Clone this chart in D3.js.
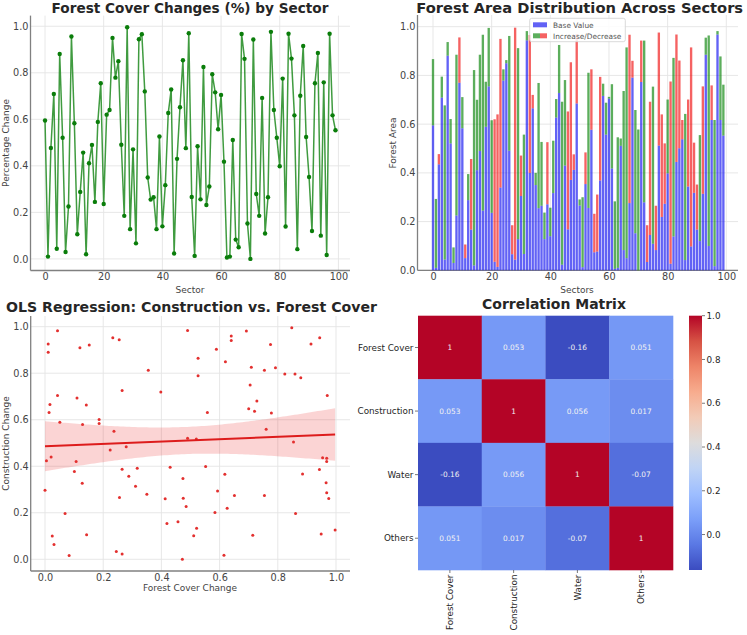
<!DOCTYPE html>
<html><head><meta charset="utf-8">
<script src="https://cdn.jsdelivr.net/npm/d3@7"></script>
<style>body{margin:0;background:#fff;} text{font-family:"DejaVu Sans",sans-serif;}</style>
</head><body><svg id="c" width="747" height="635"></svg>
<script>
// ---------------- DATA ----------------
const sectors = d3.range(100);
const forestCover = [0.595,0.01,0.477,0.709,0.044,0.881,0.521,0.03,0.225,0.956,
0.583,0.106,0.288,0.457,0.02,0.411,0.49,0.245,0.589,0.755,
0.236,0.62,0.64,0.95,0.779,0.85,0.491,0.185,0.996,0.128,
0.471,0.067,0.944,0.966,0.72,0.35,0.255,0.265,0.128,0.526,
0.14,0.317,0.627,0.728,0.023,0.43,0.652,0.854,0.476,0.97,
0.266,0.013,0.484,0.256,0.825,0.232,0.311,0.794,0.716,0.557,
0.705,0.418,0.006,0.01,0.511,0.083,0.05,0.967,0.86,0.152,
0.0,0.943,0.279,0.185,0.692,0.109,0.265,0.976,0.64,0.521,
0.398,0.775,0.139,0.968,0.861,0.617,0.042,0.701,0.915,0.524,
0.352,0.12,0.755,0.885,0.1,0.759,0.017,0.968,0.617,0.553];
const areaChange = [0.272,0.283,-0.042,0.086,0.633,0.056,0.100,0.064,0.660,-0.186,
0.128,-0.056,0.107,-0.290,0.802,0.289,0.395,0.722,0.185,0.240,
0.380,-0.585,-0.626,-0.610,0.046,0.013,0.471,-0.119,-0.952,0.784,
-0.166,0.490,0.038,-0.566,-0.055,0.050,0.514,0.262,0.109,-0.255,
0.117,0.215,0.076,0.197,0.669,0.351,-0.484,-0.483,-0.064,-0.285,
0.025,0.287,-0.130,0.555,-0.248,-0.158,-0.234,-0.425,0.050,0.131,
0.007,0.346,0.277,0.536,0.030,0.653,0.865,-0.691,-0.069,0.506,
0.578,-0.170,0.664,-0.151,-0.547,0.645,-0.182,-0.464,-0.421,-0.248,
0.303,-0.748,0.733,-0.523,-0.360,-0.079,0.600,-0.357,-0.817,-0.206,
-0.185,0.435,-0.441,0.070,0.864,-0.142,0.600,0.014,0.261,0.209];
const olsForest = [0.043,0.011,0.011,0.12,0.152,0.233,0.255,0.355,0.49,0.265,0.398,0.043,0.11,0.142,0.017,0.014,0.051,0.186,0.186,0.129,0.237,0.005,0.021,0.107,0.101,0.128,0.0,0.069,0.025,0.031,0.083,0.143,0.224,0.279,0.265,0.288,0.317,0.311,0.35,0.256,0.245,0.265,0.43,0.413,0.419,0.457,0.474,0.475,0.485,0.472,0.49,
0.64,0.64,0.692,0.589,0.526,0.526,0.62,0.775,0.848,0.914,0.944,0.709,0.754,0.792,0.824,0.859,0.879,0.705,0.558,0.728,0.7,0.72,0.778,0.97,0.76,0.52,0.854,0.954,0.968,0.968,0.552,0.618,0.885,0.943,0.593,0.651,0.754,0.966,0.968,0.975,0.626,0.584,0.861,0.521,0.511,0.714,0.949,0.997,0.615];
const olsConstruction = [0.983,0.926,0.89,0.909,0.921,0.953,0.944,0.813,0.984,0.726,0.719,0.704,0.694,0.663,0.666,0.631,0.589,0.601,0.584,0.58,0.551,0.424,0.44,0.421,0.377,0.327,0.297,0.197,0.1,0.064,0.016,0.106,0.47,0.484,0.387,0.357,0.391,0.314,0.28,0.266,0.034,0.023,0.396,0.26,0.154,0.161,0.347,0.263,0.227,0.0,0.52,
0.96,0.941,0.981,0.903,0.864,0.789,0.849,0.923,0.996,0.926,0.953,0.826,0.813,0.823,0.797,0.797,0.781,0.749,0.631,0.681,0.647,0.636,0.629,0.704,0.559,0.517,0.504,0.437,0.434,0.421,0.399,0.366,0.367,0.386,0.294,0.274,0.274,0.329,0.286,0.261,0.219,0.201,0.197,0.133,0.101,0.103,0.109,0.126,0.017];
const corrLabels = ["Forest Cover","Construction","Water","Others"];
const corrMatrix = [[1,0.053,-0.162,0.051],[0.053,1,0.056,0.017],[-0.162,0.056,1,-0.07],[0.051,0.017,-0.07,1]];
const sectorTicks = [0,20,40,60,80,100];
const unitTicks = [0,0.2,0.4,0.6,0.8,1.0];
const cbarTicks = [0,0.2,0.4,0.6,0.8,1.0];
const coolwarm = ["#3b4cc0","#5a78e4","#7b9ff9","#9ebeff","#c0d4f5","#dddcdc","#f2cbb7","#f7ac8e","#ee8468","#d65244","#b40426"];

// ---------------- HELPERS ----------------
const svg = d3.select("#c");
const TXT = "#444", SPINE = "#808080", GRID = "#e4e4e4";
function title(text, cx, y, w){
  const t = svg.append("text").attr("x",cx).attr("y",y).attr("text-anchor","middle")
    .attr("font-weight","bold").attr("font-size",14).attr("fill","#262626").text(text);
  const cw = t.node().getComputedTextLength();
  t.attr("font-size", 14*w/cw);
}
function label(text, x, y, rot){
  const t = svg.append("text").attr("text-anchor","middle").attr("font-size",9).attr("fill",TXT).text(text);
  if(rot) t.attr("transform",`translate(${x},${y}) rotate(-90)`); else t.attr("x",x).attr("y",y);
}
function frame(x, y, L, R, T, B, xt, yt, xfmt, yfmt){
  const g = svg.append("g");
  g.selectAll(".gx").data(xt).enter().append("line")
    .attr("x1",d=>x(d)).attr("x2",d=>x(d)).attr("y1",T).attr("y2",B).attr("stroke",GRID).attr("stroke-width",0.9);
  g.selectAll(".gy").data(yt).enter().append("line")
    .attr("x1",L).attr("x2",R).attr("y1",d=>y(d)).attr("y2",d=>y(d)).attr("stroke",GRID).attr("stroke-width",0.9);
  const ax = svg.append("g").attr("transform",`translate(0,${B})`)
    .call(d3.axisBottom(x).tickValues(xt).tickFormat(xfmt).tickSize(0).tickPadding(3));
  ax.select(".domain").remove();
  ax.selectAll("text").attr("font-size",9.7).attr("fill",TXT).attr("font-family","DejaVu Sans");
  const ay = svg.append("g").attr("transform",`translate(${L},0)`)
    .call(d3.axisLeft(y).tickValues(yt).tickFormat(yfmt).tickSize(0).tickPadding(2));
  ay.select(".domain").remove();
  ay.selectAll("text").attr("font-size",9.7).attr("fill",TXT).attr("font-family","DejaVu Sans");
  svg.append("line").attr("x1",L).attr("x2",L).attr("y1",T).attr("y2",B).attr("stroke",SPINE).attr("stroke-width",1.3);
  svg.append("line").attr("x1",L).attr("x2",R).attr("y1",B).attr("y2",B).attr("stroke",SPINE).attr("stroke-width",1.3);
}
const f1 = d3.format(".1f");

// ---------------- PANEL 1: line ----------------
{
  const L=30.5,R=350,T=15.6,B=270.5;
  const x = d3.scaleLinear().domain([-4.95,103.95]).range([L,R]);
  const y = d3.scaleLinear().domain([-0.0498,1.0458]).range([B,T]);
  frame(x,y,L,R,T,B,sectorTicks,unitTicks,d3.format("d"),f1);
  const line = d3.line().x((d,i)=>x(sectors[i])).y(d=>y(d));
  svg.append("path").datum(forestCover).attr("d",line).attr("fill","none")
    .attr("stroke","#1f8a1f").attr("stroke-opacity",0.85).attr("stroke-width",1.5);
  svg.append("g").selectAll("circle").data(forestCover).enter().append("circle")
    .attr("cx",(d,i)=>x(sectors[i])).attr("cy",d=>y(d)).attr("r",2.2).attr("fill","#0a7d0a");
  title("Forest Cover Changes (%) by Sector",190,12.5,277);
  label("Sector",190,292.5);
  label("Percentage Change",9,143,true);
}

// ---------------- PANEL 2: bars ----------------
{
  const L=417.5,R=738,T=15,B=270.3;
  const x = d3.scaleLinear().domain([0,100]).range([433,726.3]);
  const y = d3.scaleLinear().domain([0,1]).range([B,26.7]);
  frame(x,y,L,R,T,B,sectorTicks,unitTicks,d3.format("d"),f1);
  const bw = (x(0.8)-x(0));
  const g = svg.append("g");
  sectors.forEach((s,i)=>{
    const b = forestCover[i], c = areaChange[i];
    const lo = Math.min(b,b+c), hi = Math.max(b,b+c);
    g.append("rect").attr("x",x(s)-bw/2).attr("width",bw).attr("y",y(lo)).attr("height",y(0)-y(lo))
      .attr("fill","rgb(10,10,240)").attr("fill-opacity",0.64);
    g.append("rect").attr("x",x(s)-bw/2).attr("width",bw).attr("y",y(hi)).attr("height",y(lo)-y(hi))
      .attr("fill",c>=0?"rgb(0,128,0)":"rgb(240,10,10)").attr("fill-opacity",0.64);
  });
  // legend
  const lg = svg.append("g");
  lg.append("rect").attr("x",529.7).attr("y",18.3).attr("width",95.6).attr("height",23.4).attr("rx",2)
    .attr("fill","#fff").attr("fill-opacity",0.85).attr("stroke","#d0d0d0").attr("stroke-width",0.8);
  lg.append("rect").attr("x",533).attr("y",22.3).attr("width",14).attr("height",5).attr("fill","rgb(10,10,240)").attr("fill-opacity",0.64);
  lg.append("rect").attr("x",533).attr("y",33.3).attr("width",7).attr("height",5).attr("fill","rgb(0,128,0)").attr("fill-opacity",0.64);
  lg.append("rect").attr("x",540).attr("y",33.3).attr("width",7).attr("height",5).attr("fill","rgb(240,10,10)").attr("fill-opacity",0.64);
  lg.append("text").attr("x",553).attr("y",28).attr("font-size",7.4).attr("fill","#555").text("Base Value");
  lg.append("text").attr("x",553).attr("y",39).attr("font-size",7.4).attr("fill","#555").text("Increase/Decrease");
  title("Forest Area Distribution Across Sectors",579.7,12.5,327);
  label("Sectors",577,292.5);
  label("Forest Area",396,143,true);
}

// ---------------- PANEL 3: OLS ----------------
{
  const L=30.7,R=350,T=316,B=571;
  const x = d3.scaleLinear().domain([0,1]).range([45,336]);
  const y = d3.scaleLinear().domain([0,1]).range([559.3,326.7]);
  frame(x,y,L,R,T,B,unitTicks,unitTicks,f1,f1);
  const n = olsForest.length;
  const mx = d3.mean(olsForest), my = d3.mean(olsConstruction);
  let sxx=0, sxy=0;
  for(let i=0;i<n;i++){ sxx+=(olsForest[i]-mx)**2; sxy+=(olsForest[i]-mx)*(olsConstruction[i]-my); }
  const b = sxy/sxx, a = my - b*mx;
  let sse=0; for(let i=0;i<n;i++){ sse+=(olsConstruction[i]-a-b*olsForest[i])**2; }
  const s = Math.sqrt(sse/(n-2)), tq = 1.984;
  const xs = d3.extent(olsForest);
  const grid = d3.range(0,101).map(k=>xs[0]+(xs[1]-xs[0])*k/100);
  const band = grid.map(xv=>{ const yh=a+b*xv, se=s*Math.sqrt(1/n+(xv-mx)**2/sxx); return [xv,yh-tq*se,yh+tq*se]; });
  svg.append("path").datum(band).attr("d",d3.area().x(d=>x(d[0])).y0(d=>y(d[1])).y1(d=>y(d[2])))
    .attr("fill","rgb(235,40,40)").attr("fill-opacity",0.2);
  svg.append("g").selectAll("circle").data(olsForest).enter().append("circle")
    .attr("cx",d=>x(d)).attr("cy",(d,i)=>y(olsConstruction[i])).attr("r",1.5).attr("fill","#e3302f");
  svg.append("line").attr("x1",x(xs[0])).attr("x2",x(xs[1])).attr("y1",y(a+b*xs[0])).attr("y2",y(a+b*xs[1]))
    .attr("stroke","#dd1c1c").attr("stroke-width",2);
  title("OLS Regression: Construction vs. Forest Cover",191.5,311.5,371);
  label("Forest Cover Change",190,591);
  label("Construction Change",9,443.5,true);
}

// ---------------- PANEL 4: heatmap ----------------
{
  const L=418,R=673,T=315.7,B=570;
  const cx = d3.scaleBand().domain(corrLabels).range([L,R]);
  const cy = d3.scaleBand().domain(corrLabels).range([T,B]);
  const vmin = d3.min(corrMatrix.flat()), vmax = 1;
  const color = d3.scaleLinear().domain(coolwarm.map((c,i)=>vmin+(vmax-vmin)*i/10)).range(coolwarm).interpolate(d3.interpolateRgb);
  const cells = [];
  corrMatrix.forEach((row,i)=>row.forEach((v,j)=>cells.push({r:corrLabels[i],c:corrLabels[j],v})));
  const fmt = v => d3.format(".2~g")(v).replace("\u2212","-");
  const g = svg.append("g");
  g.selectAll("rect").data(cells).enter().append("rect")
    .attr("x",d=>cx(d.c)).attr("y",d=>cy(d.r)).attr("width",cx.bandwidth()+0.3).attr("height",cy.bandwidth()+0.3)
    .attr("fill",d=>color(d.v));
  g.selectAll("text").data(cells).enter().append("text")
    .attr("x",d=>cx(d.c)+cx.bandwidth()/2).attr("y",d=>cy(d.r)+cy.bandwidth()/2+2.7)
    .attr("text-anchor","middle").attr("font-size",7.4).attr("fill","#f2f2f2").text(d=>fmt(d.v));
  corrLabels.forEach(lab=>{
    const yy = cy(lab)+cy.bandwidth()/2;
    svg.append("line").attr("x1",L-3).attr("x2",L).attr("y1",yy).attr("y2",yy).attr("stroke","#555").attr("stroke-width",0.8);
    svg.append("text").attr("x",L-4.5).attr("y",yy+3.2).attr("text-anchor","end").attr("font-size",8.8).attr("fill","#262626").text(lab);
    const xx = cx(lab)+cx.bandwidth()/2;
    svg.append("line").attr("x1",xx).attr("x2",xx).attr("y1",B).attr("y2",B+3).attr("stroke","#555").attr("stroke-width",0.8);
    svg.append("text").attr("transform",`translate(${xx+3.2},${B+4.5}) rotate(-90)`).attr("text-anchor","end")
      .attr("font-size",8.8).attr("fill","#262626").text(lab);
  });
  // colorbar
  const cbL=689, cbW=13;
  const cb = d3.scaleLinear().domain([vmin,vmax]).range([B,T]);
  const defs = svg.append("defs");
  const lgd = defs.append("linearGradient").attr("id","cw").attr("x1",0).attr("x2",0).attr("y1",1).attr("y2",0);
  coolwarm.forEach((c,i)=>lgd.append("stop").attr("offset",i/10).attr("stop-color",c));
  svg.append("rect").attr("x",cbL).attr("y",T).attr("width",cbW).attr("height",B-T).attr("fill","url(#cw)");
  cbarTicks.forEach(t=>{
    svg.append("line").attr("x1",cbL+cbW).attr("x2",cbL+cbW+3).attr("y1",cb(t)).attr("y2",cb(t)).attr("stroke","#555").attr("stroke-width",0.8);
    svg.append("text").attr("x",cbL+cbW+4.5).attr("y",cb(t)+3.2).attr("font-size",8.8).attr("fill","#262626").text(f1(t));
  });
  title("Correlation Matrix",554,309,144);
}
</script></body></html>
